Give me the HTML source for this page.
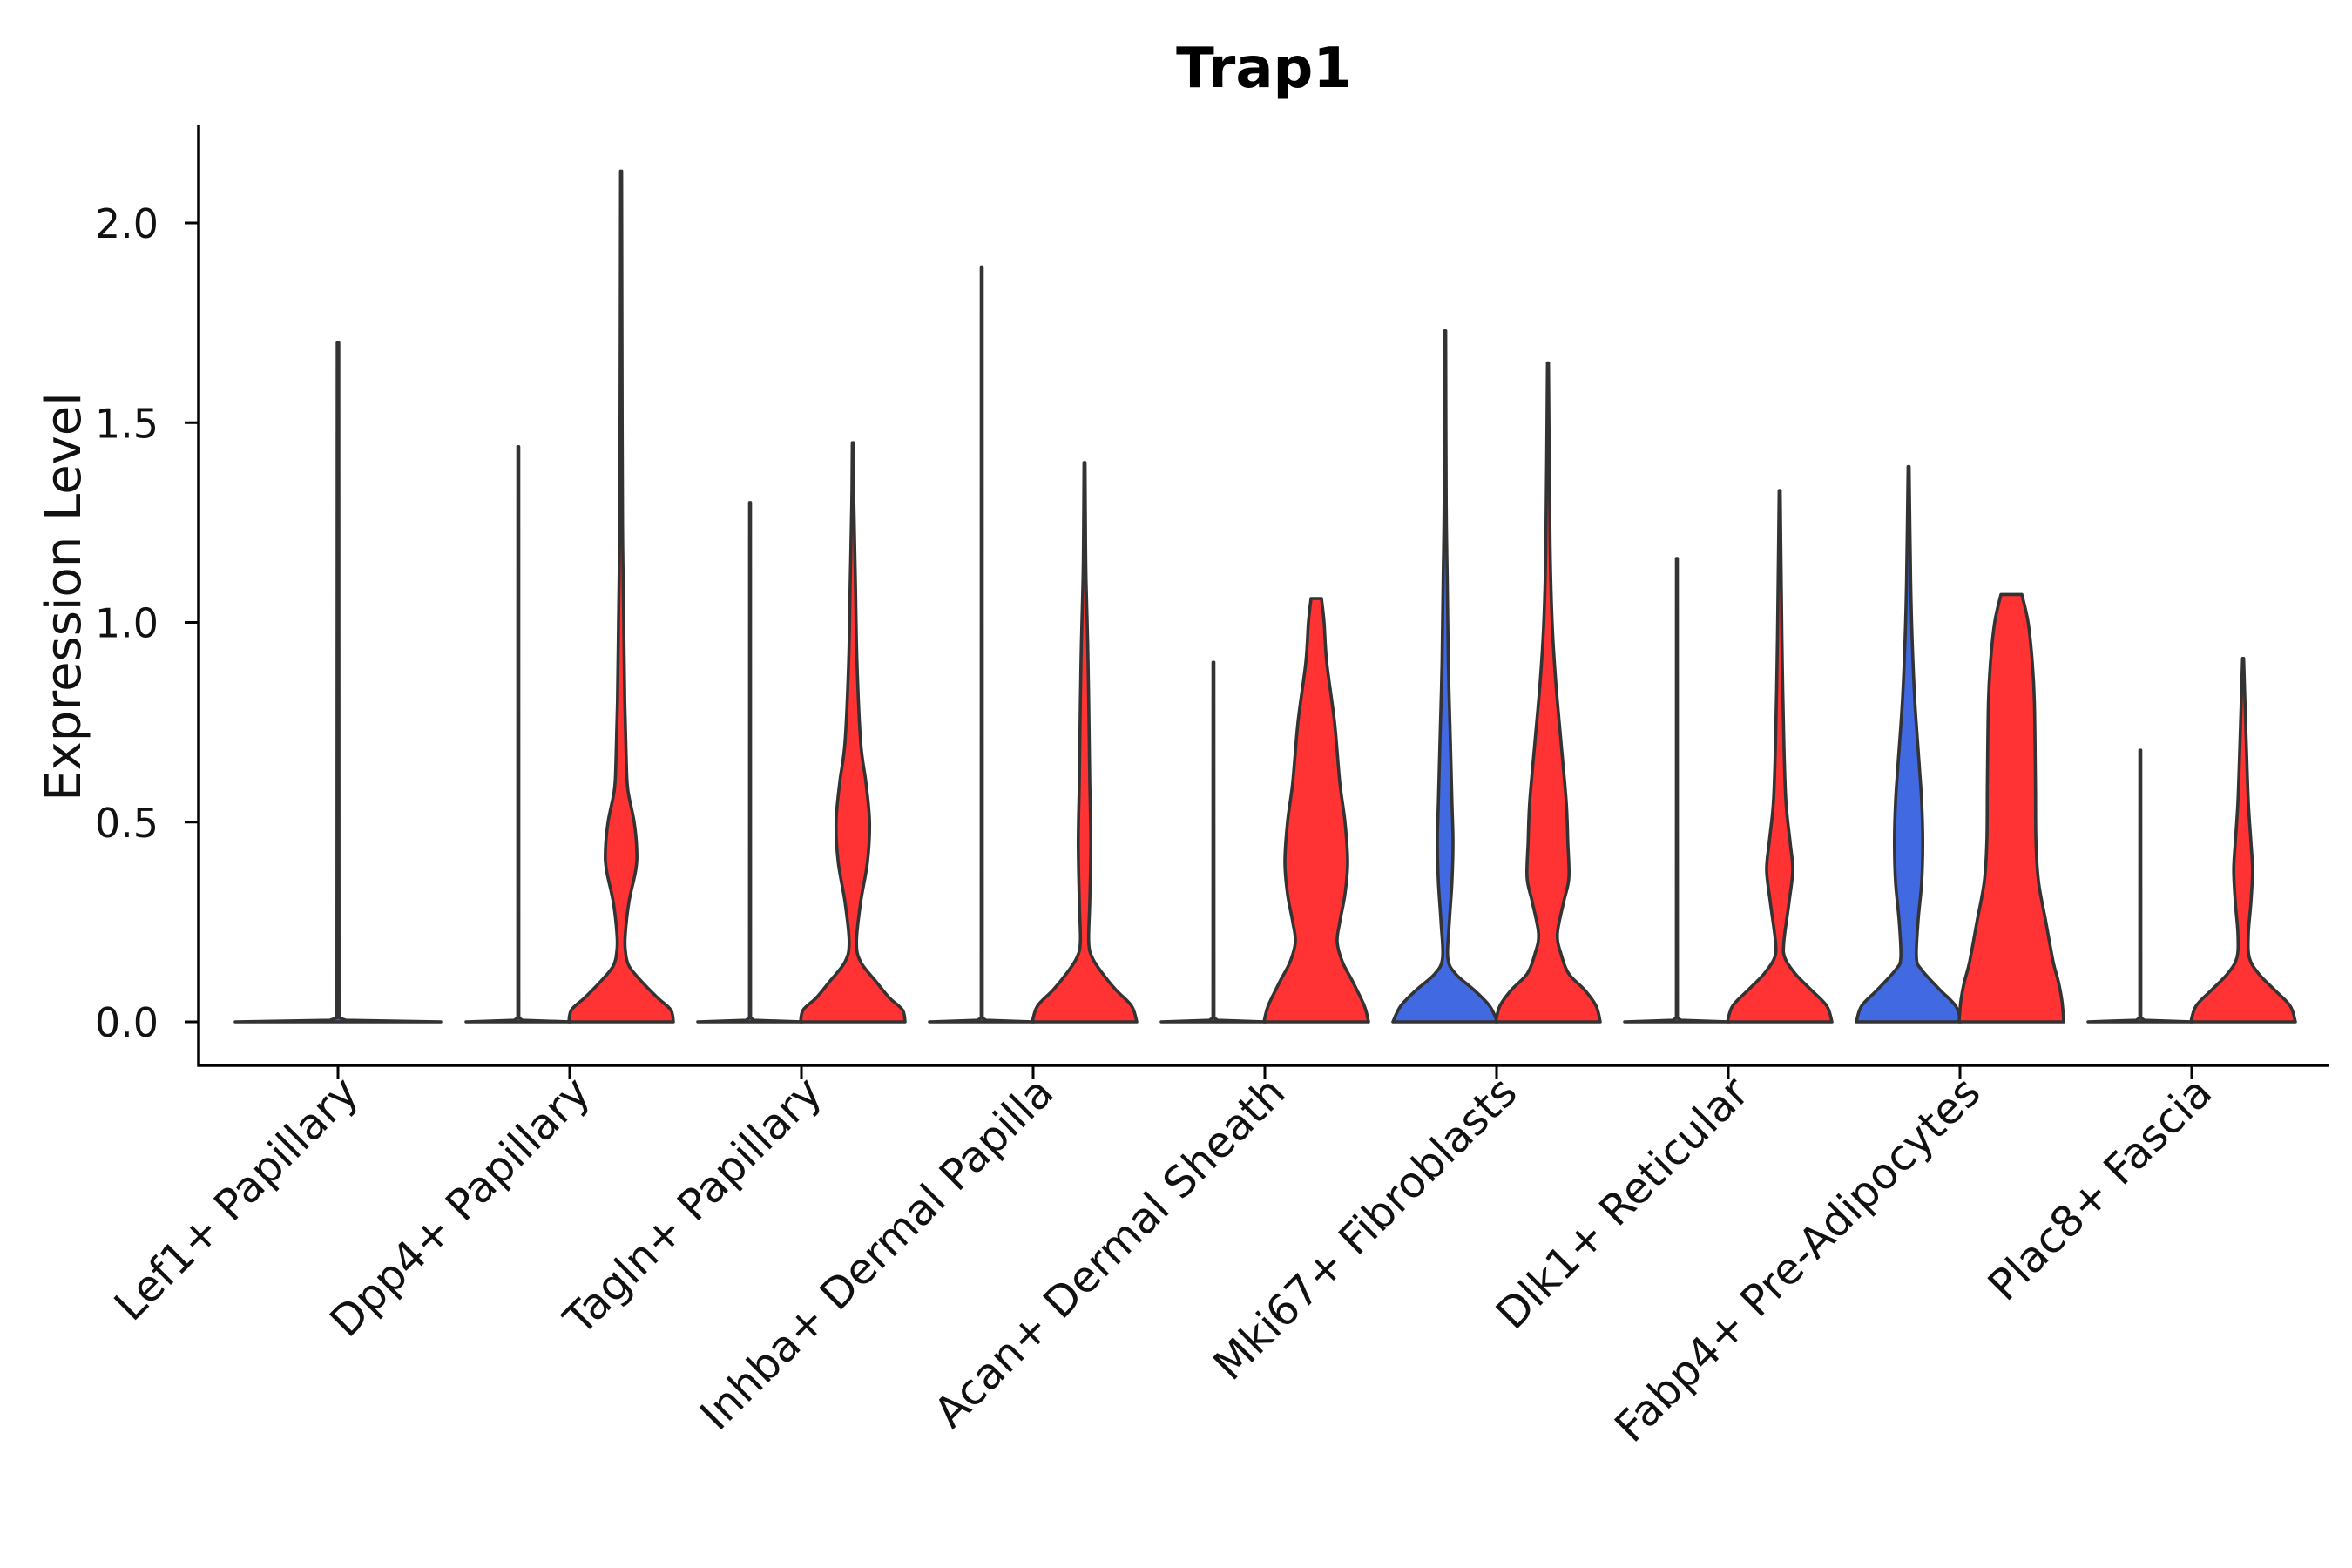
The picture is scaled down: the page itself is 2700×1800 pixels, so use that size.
<!DOCTYPE html>
<html><head><meta charset="utf-8"><style>
html,body{margin:0;padding:0;background:#fff;}
svg{display:block;font-family:"DejaVu Sans","Liberation Sans",sans-serif;}
</style></head><body>
<svg id="chart" width="2700" height="1800" viewBox="0 0 2700 1800" xmlns="http://www.w3.org/2000/svg">
<rect x="0" y="0" width="2700" height="1800" fill="#fff"/>
<text x="1451" y="100" text-anchor="middle" font-size="64" font-weight="bold" fill="#000">Trap1</text>
<text transform="translate(92,685) rotate(-90)" text-anchor="middle" font-size="56" fill="#111">Expression Level</text>
<g id="yaxis"></g>
<g id="xaxis"></g>
<g id="violins"></g>
</svg>
<script>
const categories = ["Lef1+ Papillary","Dpp4+ Papillary","Tagln+ Papillary","Inhba+ Dermal Papilla","Acan+ Dermal Sheath","Mki67+ Fibroblasts","Dlk1+ Reticular","Fabp4+ Pre-Adipocytes","Plac8+ Fascia"];
const yTicks = [0, 0.5, 1.0, 1.5, 2.0];
const yTickLabels = ["0.0","0.5","1.0","1.5","2.0"];
// group 1 (blue) max values per category
const blueMax = [1.70, 1.44, 1.30, 1.89, 0.90, 1.73, 1.16, 1.39, 0.68];
const blueShape = [
  null, null, null, null, null,
  [[0,1],[0.04,0.85],[0.08,0.55],[0.12,0.2],[0.16,0.05],[0.25,0.08],[0.35,0.13],[0.45,0.15],[0.55,0.13],[0.7,0.1],[0.9,0.06],[1.1,0.04],[1.3,0.02],[1.73,0.01]],
  null,
  [[0,1],[0.04,0.9],[0.08,0.6],[0.13,0.25],[0.16,0.15],[0.25,0.18],[0.35,0.25],[0.45,0.27],[0.55,0.25],[0.65,0.2],[0.8,0.12],[0.95,0.07],[1.1,0.04],[1.39,0.01]],
  null
];
// group 2 (red) violins: [y, relative half-width]; null = absent
const redShape = [
  null,
  [[0,1],[0.03,0.95],[0.06,0.7],[0.1,0.4],[0.14,0.15],[0.18,0.08],[0.22,0.08],[0.3,0.15],[0.38,0.28],[0.43,0.3],[0.5,0.25],[0.58,0.13],[0.65,0.1],[0.8,0.07],[1.0,0.05],[1.2,0.03],[1.5,0.02],[2.13,0.01]],
  [[0,1],[0.03,0.95],[0.06,0.7],[0.1,0.45],[0.15,0.15],[0.2,0.07],[0.3,0.15],[0.4,0.28],[0.5,0.32],[0.6,0.25],[0.7,0.15],[0.9,0.08],[1.1,0.05],[1.3,0.02],[1.45,0.01]],
  [[0,1],[0.04,0.9],[0.08,0.6],[0.12,0.35],[0.16,0.15],[0.2,0.08],[0.3,0.1],[0.45,0.12],[0.6,0.1],[0.8,0.08],[0.95,0.06],[1.1,0.03],[1.2,0.02],[1.4,0.01]],
  [[0,1],[0.04,0.92],[0.1,0.7],[0.15,0.5],[0.2,0.4],[0.25,0.45],[0.32,0.55],[0.4,0.6],[0.5,0.55],[0.6,0.45],[0.75,0.35],[0.9,0.2],[1.0,0.15],[1.06,0.1]],
  [[0,1],[0.04,0.92],[0.08,0.7],[0.12,0.4],[0.17,0.25],[0.22,0.18],[0.3,0.3],[0.36,0.4],[0.45,0.38],[0.55,0.35],[0.7,0.25],[0.85,0.15],[1.0,0.08],[1.2,0.04],[1.65,0.01]],
  [[0,1],[0.04,0.9],[0.08,0.6],[0.12,0.3],[0.16,0.1],[0.2,0.08],[0.3,0.18],[0.38,0.25],[0.45,0.2],[0.55,0.12],[0.7,0.08],[0.9,0.05],[1.1,0.03],[1.33,0.01]],
  [[0,1],[0.05,0.97],[0.1,0.9],[0.15,0.8],[0.25,0.66],[0.35,0.52],[0.45,0.47],[0.6,0.46],[0.8,0.44],[0.9,0.4],[1.0,0.32],[1.07,0.2]],
  [[0,1],[0.04,0.9],[0.08,0.6],[0.12,0.3],[0.16,0.12],[0.22,0.1],[0.3,0.15],[0.38,0.18],[0.45,0.15],[0.55,0.1],[0.7,0.06],[0.91,0.01]]
];

const NS = "http://www.w3.org/2000/svg";
const X0 = 228, X1 = 2674, YTOP = 144, XAXIS_Y = 1223;
const catStep = 266, firstCat = 388;
function xScale(i){ return firstCat + i*catStep; }
function yScale(v){ return 1173 - v*458.5; }

const yaxis = document.getElementById('yaxis');
const xaxis = document.getElementById('xaxis');
const vg = document.getElementById('violins');
function mk(tag, attrs, parent){ const e=document.createElementNS(NS,tag); for(const k in attrs) e.setAttribute(k, attrs[k]); parent.appendChild(e); return e; }

let l = mk('line',{x1:X0,y1:YTOP,x2:X0,y2:XAXIS_Y+1.5,stroke:'#000','stroke-width':3.5},yaxis);


l = mk('line',{x1:X0-1.5,y1:XAXIS_Y,x2:X1,y2:XAXIS_Y,stroke:'#000','stroke-width':3.5},xaxis);



yTicks.forEach((v,i)=>{
  const y=yScale(v);
  const t=mk('line',{x1:X0-16,y1:y,x2:X0,y2:y,stroke:'#000','stroke-width':3},yaxis);
  
  
  const tx=mk('text',{x:X0-46,y:y+17,'text-anchor':'end','font-size':46,fill:'#111'},yaxis);
  tx.textContent=yTickLabels[i];
  
  
});
categories.forEach((c,i)=>{
  const x=xScale(i);
  const t=mk('line',{x1:x,y1:XAXIS_Y,x2:x,y2:XAXIS_Y+16,stroke:'#000','stroke-width':3},xaxis);
  
  
  const tx=mk('text',{transform:`translate(${x+26},${XAXIS_Y+34}) rotate(-45)`,'text-anchor':'end','font-size':49,fill:'#111'},xaxis);
  tx.textContent=c;
  
  
});

function smooth(pts){
  let d='';
  for(let i=0;i<pts.length-1;i++){
    const p0=pts[Math.max(0,i-1)], p1=pts[i], p2=pts[i+1], p3=pts[Math.min(pts.length-1,i+2)];
    const c1=[p1[0]+(p2[0]-p0[0])/6, p1[1]+(p2[1]-p0[1])/6];
    const c2=[p2[0]-(p3[0]-p1[0])/6, p2[1]-(p3[1]-p1[1])/6];
    d+=`C${c1[0].toFixed(1)},${c1[1].toFixed(1)} ${c2[0].toFixed(1)},${c2[1].toFixed(1)} ${p2[0].toFixed(1)},${p2[1].toFixed(1)}`;
  }
  return d;
}
function linear(pts){ return pts.slice(1).map(p=>'L'+p[0].toFixed(1)+','+p[1].toFixed(1)).join(''); }
function violinPath(cx, half, knots, isSmooth){
  const right = knots.map(k=>[cx + k[1]*half, yScale(k[0])]);
  const left = knots.slice().reverse().map(k=>[cx - k[1]*half, yScale(k[0])]);
  const topL = left[0];
  const f = isSmooth ? smooth : linear;
  return `M${right[0][0].toFixed(1)},${right[0][1].toFixed(1)}`+f(right)+
    `L${topL[0].toFixed(1)},${topL[1].toFixed(1)}`+f(left)+'Z';
}
function flatKnots(max){ return [[0,1],[0.004,0.08],[0.01,0.01],[max,0.008]]; }

categories.forEach((c,i)=>{
  const cx=xScale(i);
  const hasRed = !!redShape[i];
  const bcx = hasRed ? cx-59 : cx;
  const bhalf = hasRed ? 60 : 118;
  const isFlat = !blueShape[i];
  const bk = isFlat ? flatKnots(blueMax[i]) : blueShape[i];
  const pb=mk('path',{d:violinPath(bcx,bhalf,bk,!isFlat),fill:'#4169E1',stroke:'#333','stroke-width':3.6,'stroke-linejoin':'round'},vg);
  
  
  if(hasRed){
    const pr=mk('path',{d:violinPath(cx+59,60,redShape[i],true),fill:'#FF3333',stroke:'#333','stroke-width':3.6,'stroke-linejoin':'round'},vg);
    
    
  }
});
</script>
</body></html>
